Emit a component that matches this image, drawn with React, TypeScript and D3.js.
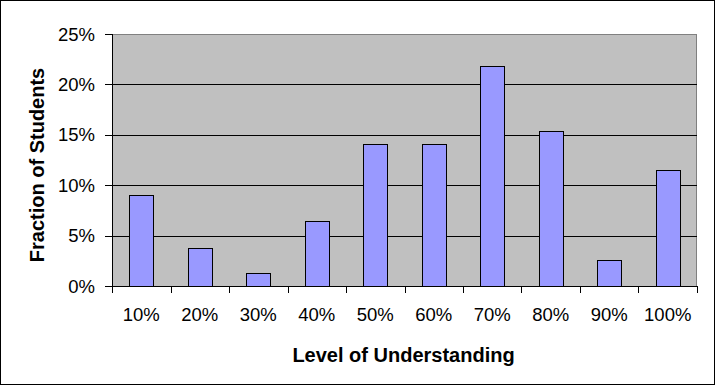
import React from "react";
import * as d3 from "d3";

// Level of understanding categories and fraction of students (%)
const levels = ["10%", "20%", "30%", "40%", "50%", "60%", "70%", "80%", "90%", "100%"];
const fractions = [9.0, 3.8, 1.3, 6.4, 14.1, 14.1, 21.8, 15.4, 2.6, 11.5];
const yTicks = [0, 5, 10, 15, 20, 25];

const W = 715;
const H = 385;
const margin = { top: 34, right: 18, bottom: 99, left: 112 };
const font = "'Liberation Sans', Arial, sans-serif";

export default function App() {
  const pad = 0.59;
  const x = d3
    .scaleBand<string>()
    .domain(levels)
    .range([margin.left, W - margin.right])
    .paddingInner(pad)
    .paddingOuter(pad / 2);
  const y = d3.scaleLinear().domain([0, 25]).range([H - margin.bottom, margin.top]);

  const step = x.step();
  const left = margin.left;
  const right = W - margin.right;
  const top = margin.top;
  const bottom = H - margin.bottom;

  // category boundaries for x ticks
  const bounds = levels.map((c) => x(c)! - (step * pad) / 2);
  bounds.push(right);

  return (
    <>
      <style>{"body{margin:0}"}</style>
      <svg width={W} height={H} style={{ display: "block", fontFamily: font }}>
        <rect x={0.5} y={0.5} width={W - 1} height={H - 1} fill="#fff" stroke="#000" />
        {/* plot background */}
        <rect x={left} y={top} width={right - left} height={bottom - top} fill="#c0c0c0" />
        <line x1={left} x2={right} y1={top + 0.5} y2={top + 0.5} stroke="#808080" />
        <line x1={right - 0.5} x2={right - 0.5} y1={top} y2={bottom} stroke="#808080" />
        {/* gridlines */}
        {yTicks
          .filter((t) => t > 0 && t < 25)
          .map((t) => (
            <line
              key={t}
              x1={left}
              x2={right}
              y1={Math.round(y(t)) + 0.5}
              y2={Math.round(y(t)) + 0.5}
              stroke="#000"
            />
          ))}
        {/* bars */}
        {levels.map((c, i) => (
          <rect
            key={c}
            x={Math.round(x(c)!) + 0.5}
            y={Math.round(y(fractions[i])) + 0.5}
            width={Math.round(x.bandwidth())}
            height={Math.round(bottom) - Math.round(y(fractions[i]))}
            fill="#9999ff"
            stroke="#000"
          />
        ))}
        {/* axes */}
        <line x1={left + 0.5} x2={left + 0.5} y1={top} y2={bottom + 0.5} stroke="#000" />
        <line x1={left} x2={right} y1={bottom + 0.5} y2={bottom + 0.5} stroke="#000" />
        {yTicks.map((t) => (
          <g key={t}>
            <line
              x1={left - 7}
              x2={left}
              y1={Math.round(y(t)) + 0.5}
              y2={Math.round(y(t)) + 0.5}
              stroke="#000"
            />
            <text
              x={left - 17}
              y={y(t)}
              dy="0.36em"
              textAnchor="end"
              fontSize={18.5}
              fill="#000"
            >
              {t}%
            </text>
          </g>
        ))}
        {bounds.map((b, i) => (
          <line
            key={i}
            x1={Math.round(b) + 0.5}
            x2={Math.round(b) + 0.5}
            y1={bottom}
            y2={bottom + 7}
            stroke="#000"
          />
        ))}
        {levels.map((c) => (
          <text
            key={c}
            x={x(c)! + x.bandwidth() / 2}
            y={321}
            textAnchor="middle"
            fontSize={18.5}
            fill="#000"
          >
            {c}
          </text>
        ))}
        <text
          x={(left + right) / 2 - 1}
          y={362}
          textAnchor="middle"
          fontSize={20}
          fontWeight="bold"
          fill="#000"
        >
          Level of Understanding
        </text>
        <text
          transform={`translate(44,${(top + bottom) / 2 + 5}) rotate(-90)`}
          textAnchor="middle"
          fontSize={20}
          fontWeight="bold"
          fill="#000"
        >
          Fraction of Students
        </text>
      </svg>
    </>
  );
}
